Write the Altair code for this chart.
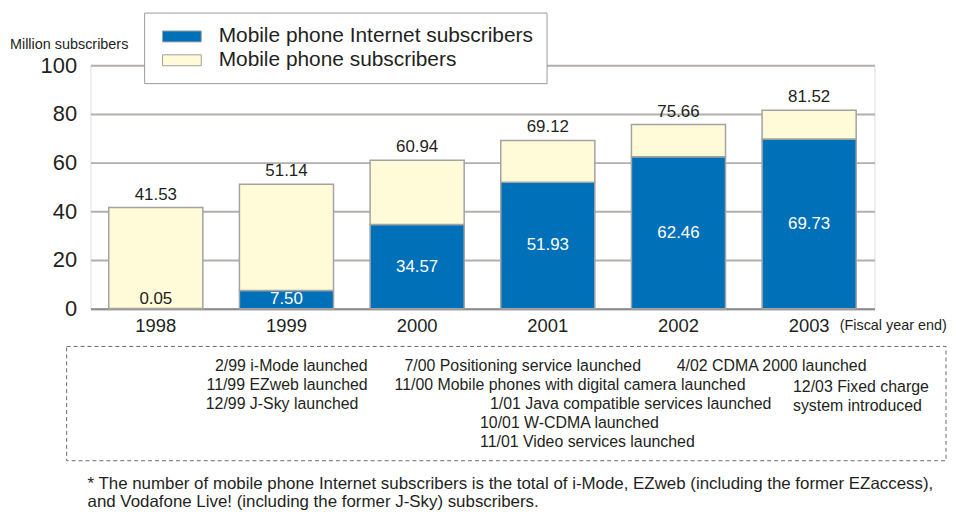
import altair as alt
import pandas as pd

# ---------------- data ----------------
years = ["1998", "1999", "2000", "2001", "2002", "2003"]
internet = [0.05, 7.50, 34.57, 51.93, 62.46, 69.73]
total = [41.53, 51.14, 60.94, 69.12, 75.66, 81.52]
series = ["Mobile phone Internet subscribers", "Mobile phone subscribers"]
colors = ["#0070b9", "#fffbd8"]

y_ticks = [0, 20, 40, 60, 80, 100]
y_title = "Million subscribers"
x_note = "(Fiscal year end)"

events_col1 = ["2/99 i-Mode launched", "11/99 EZweb launched", "12/99 J-Sky launched"]
events_col2 = ["7/00 Positioning service launched",
               "11/00 Mobile phones with digital camera launched",
               "1/01 Java compatible services launched",
               "10/01 W-CDMA launched",
               "11/01 Video services launched"]
events_col3 = ["4/02 CDMA 2000 launched", "12/03 Fixed charge", "system introduced"]
footnote = ["* The number of mobile phone Internet subscribers is the total of i-Mode, EZweb (including the former EZaccess),",
            "and Vodafone Live! (including  the former J-Sky) subscribers."]

# ---------------- tables ----------------
rows = []
for yr, i, t in zip(years, internet, total):
    rows.append({"year": yr, "series": series[0], "start": 0.0, "end": i})
    rows.append({"year": yr, "series": series[1], "start": i, "end": t})
bars_df = pd.DataFrame(rows)
lab_df = pd.DataFrame({"year": years, "internet": internet, "total": total})

W, H = 789, 245
FONT = "Liberation Sans"
DARK = "#231f20"

xscale = alt.Scale(paddingInner=0.28, paddingOuter=0.14)
yscale = alt.Scale(domain=[0, 100], nice=False)

bars = alt.Chart(bars_df).mark_bar(stroke="#a3a3a3", strokeWidth=1.5).encode(
    x=alt.X("year:N", scale=xscale, title=None,
            axis=alt.Axis(labelAngle=0, ticks=False, domain=True, domainColor="#8e8e8e",
                          domainWidth=2, labelFontSize=18.5, labelPadding=8,
                          labelColor=DARK, grid=False)),
    y=alt.Y("start:Q", scale=yscale, title=None,
            axis=alt.Axis(values=y_ticks, grid=True, gridColor="#b2afad", gridWidth=2,
                          domain=False, ticks=False, labelFontSize=22, labelPadding=14,
                          labelColor=DARK)),
    y2="end:Q",
    color=alt.Color("series:N", scale=alt.Scale(domain=series, range=colors),
                    legend=alt.Legend(title=None, orient="none", legendX=54, legendY=-53,
                                      direction="vertical", fillColor="white",
                                      strokeColor="#9a9a9a", padding=13,
                                      symbolType="M-1.857,-0.524H1.857V0.524H-1.857Z",
                                      symbolSize=441, symbolStrokeColor="#a0a0a0",
                                      symbolStrokeWidth=1, symbolOffset=14,
                                      labelOffset=26, labelFontSize=21, labelColor=DARK,
                                      rowPadding=3, labelLimit=400)),
)

inner = alt.Chart(lab_df).transform_calculate(
    ly="max(datum.internet / 2, 4)"
).mark_text(fontSize=17, baseline="middle").encode(
    x=alt.X("year:N", scale=xscale),
    y=alt.Y("ly:Q", scale=yscale),
    text=alt.Text("internet:Q", format=".2f"),
    color=alt.condition("datum.internet < 1", alt.value(DARK), alt.value("white")),
)

tops = alt.Chart(lab_df).mark_text(fontSize=17, baseline="middle", dy=-13, color=DARK).encode(
    x=alt.X("year:N", scale=xscale),
    y=alt.Y("total:Q", scale=yscale),
    text=alt.Text("total:Q", format=".2f"),
)

one = pd.DataFrame({"k": [0]})
box = alt.Chart(one).mark_rect(fillOpacity=0, stroke="#6a6a6a", strokeWidth=1,
                               strokeDash=[4, 3]).encode(
    x=alt.value(-24), x2=alt.value(861), y=alt.value(283), y2=alt.value(398))


def label(txt, x, y, size=16, align="left", baseline="middle"):
    return alt.Chart(pd.DataFrame({"t": [txt]})).mark_text(
        align=align, baseline=baseline, fontSize=size, color=DARK, font=FONT
    ).encode(x=alt.value(x), y=alt.value(y), text="t:N")


texts = [
    label(y_title, -81, -20, size=14.5),
    label(x_note, 754, 262, size=14.5),
    label(events_col1[0], 279, 303, align="right"),
    label(events_col1[1], 279, 322, align="right"),
    label(events_col1[2], 116, 341),
    label(events_col2[0], 316, 303),
    label(events_col2[1], 306, 322),
    label(events_col2[2], 402, 341),
    label(events_col2[3], 392, 360),
    label(events_col2[4], 392, 379),
    label(events_col3[0], 590, 303),
    label(events_col3[1], 707, 324),
    label(events_col3[2], 707, 343),
    label(footnote[0], -3, 426, size=17, baseline="alphabetic"),
    label(footnote[1], -3, 445, size=17, baseline="alphabetic"),
]

chart = alt.layer(bars, inner, tops, box, *texts).properties(
    width=W, height=H, autosize="none",
    padding={"left": 83, "top": 56, "right": 74, "bottom": 204},
).configure_view(
    fill="#e2dddb", stroke="#9b9b9b", strokeWidth=2
).configure(font=FONT)

chart.save("out.html", embed_options={"renderer": "svg", "actions": False})
